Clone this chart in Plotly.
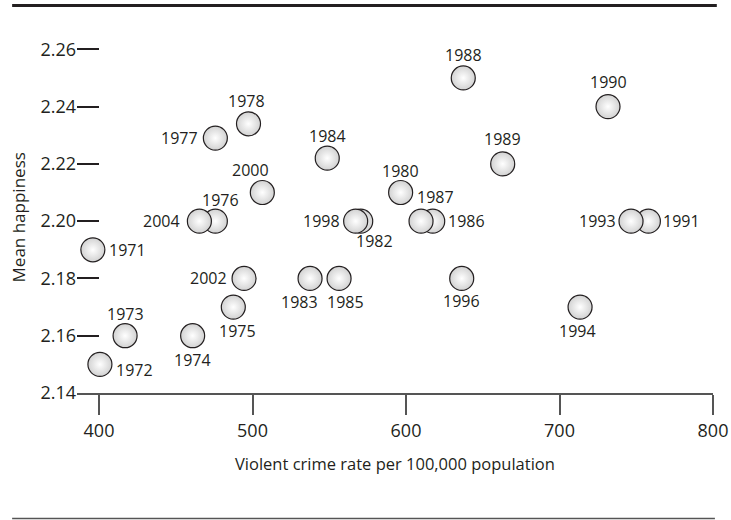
import plotly.graph_objects as go

years = [1971, 1972, 1973, 1974, 1975, 1976, 1977, 1978, 1980, 1982, 1983, 1984,
         1985, 1986, 1987, 1988, 1989, 1990, 1991, 1993, 1994, 1996, 1998, 2000,
         2002, 2004]
crime_rate = [396.0, 400.6, 417.0, 461.0, 487.5, 475.8, 475.8, 497.4, 596.5, 570.5,
              537.5, 548.7, 556.4, 617.4, 609.8, 637.3, 663.0, 731.6, 757.9, 746.6,
              713.4, 636.3, 567.2, 506.4, 494.5, 465.4]
mean_happiness = [2.19, 2.15, 2.16, 2.16, 2.17, 2.20, 2.229, 2.234, 2.21, 2.20,
                  2.18, 2.222, 2.18, 2.20, 2.20, 2.25, 2.22, 2.24, 2.20, 2.20,
                  2.17, 2.18, 2.20, 2.21, 2.18, 2.20]

x_ticks = [400, 500, 600, 700, 800]
y_ticks = [2.14, 2.16, 2.18, 2.20, 2.22, 2.24, 2.26]
y_tick_labels = ["2.14", "2.16", "2.18", "2.20", "2.22", "2.24", "2.26"]

# label offsets (pixels) relative to each marker centre
label_offsets = {
    1971: (35, 0), 1972: (35, 6), 1973: (0, -22), 1974: (0, 24), 1975: (4, 24),
    1976: (5, -21), 1977: (-36, 0), 1978: (-2, -23), 1980: (0, -22), 1982: (14, 20),
    1983: (-11, 24), 1984: (0, -22), 1985: (6, 24), 1986: (34, 0), 1987: (14, -24),
    1988: (0, -23), 1989: (0, -25), 1990: (0, -25), 1991: (33, 0), 1993: (-34, 0),
    1994: (-3, 24), 1996: (0, 23), 1998: (-34, 0), 2000: (-12, -23), 2002: (-36, 0),
    2004: (-38, 0),
}

FONT = "Open Sans"
TXT = "#231f20"

fig = go.Figure()
fig.add_trace(go.Scatter(
    x=crime_rate, y=mean_happiness, mode="markers",
    marker=dict(size=24, color="#d2d2d2",
                gradient=dict(type="radial", color="#ffffff"),
                line=dict(color="#231f20", width=1.2)),
    cliponaxis=False, hoverinfo="skip", showlegend=False,
))

annotations = []
for yr, xv, yv in zip(years, crime_rate, mean_happiness):
    dx, dy = label_offsets[yr]
    annotations.append(dict(
        x=xv, y=yv, xref="x", yref="y", text=str(yr), showarrow=False,
        xshift=dx, yshift=-dy, xanchor="center", yanchor="middle",
        font=dict(family=FONT, size=16, color=TXT),
    ))

annotations.append(dict(
    x=0.5, y=-0.193, xref="paper", yref="paper",
    text="Violent crime rate per 100,000 population", showarrow=False,
    xanchor="center", yanchor="middle", font=dict(family=FONT, size=16.5, color=TXT),
))
annotations.append(dict(
    x=-0.092, y=0.485, xref="paper", yref="paper", textangle=-90,
    text="Mean happiness", showarrow=False,
    xanchor="center", yanchor="middle", font=dict(family=FONT, size=17, color=TXT),
))

fig.update_layout(
    width=731, height=520, autosize=False,
    margin=dict(l=77, r=18, t=30, b=127),
    paper_bgcolor="white", plot_bgcolor="white",
    font=dict(family=FONT, color=TXT),
    annotations=annotations,
    shapes=[
        dict(type="line", xref="paper", yref="paper", x0=-0.102, x1=1.006,
             y0=1.0675, y1=1.0675, line=dict(color="#231f20", width=3)),
        dict(type="line", xref="paper", yref="paper", x0=-0.102, x1=1.003,
             y0=-0.3457, y1=-0.3457, line=dict(color="#555555", width=1.5)),
    ],
    xaxis=dict(
        range=[400 - 22 / 1.535, 800], tickvals=x_ticks, automargin=False,
        showgrid=False, zeroline=False, showline=True, linecolor="#555555", linewidth=2,
        ticks="outside", ticklen=20, tickwidth=2, tickcolor="#555555",
        tickfont=dict(family=FONT, size=18, color=TXT),
    ),
    yaxis=dict(
        range=[2.14, 2.14 + 363 / 57.28 * 0.02], tickvals=y_ticks, ticktext=y_tick_labels,
        automargin=False,
        showgrid=False, zeroline=False, showline=False,
        ticks="inside", ticklen=22, tickwidth=1.5, tickcolor="#231f20",
        tickfont=dict(family=FONT, size=18, color=TXT),
    ),
)

fig.write_html(
    "out.html",
    config={"displayModeBar": False, "responsive": False},
    post_script="document.body.style.margin='0';document.body.style.overflow='hidden';",
)
